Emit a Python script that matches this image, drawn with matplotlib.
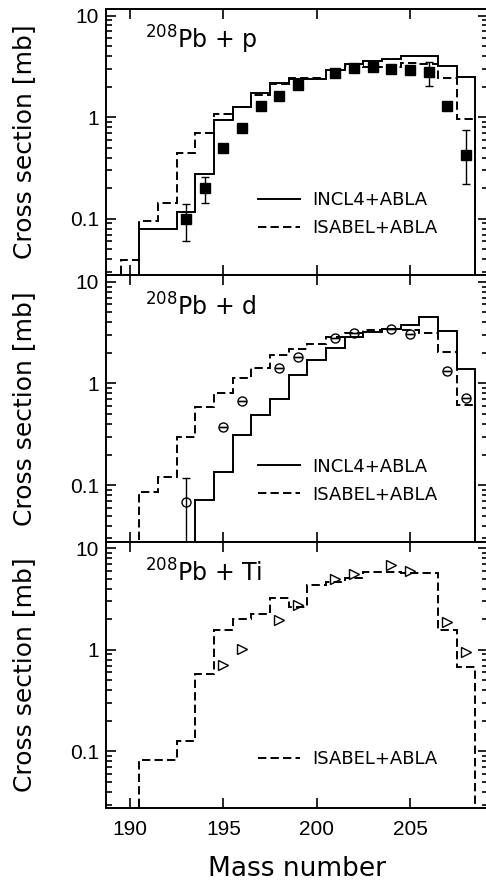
import numpy as np
import matplotlib
matplotlib.use('Agg')
import matplotlib.pyplot as plt
from matplotlib.ticker import FixedLocator, LogLocator, FuncFormatter, NullFormatter

# tick numbers in a narrow face, everything else set to DejaVu Sans explicitly
plt.rcParams['font.family'] = ['Liberation Sans Narrow', 'Liberation Sans', 'DejaVu Sans']
plt.rcParams['lines.scale_dashes'] = False
TXT = 'DejaVu Sans'

# ---- 208Pb + p ----
p_incl_mass = list(range(191, 209))
p_incl = [0.080, 0.080, 0.116, 0.273, 0.93, 1.25, 1.73, 2.18, 2.38, 2.38,
          2.94, 3.35, 3.55, 3.7, 3.98, 4.0, 3.22, 2.48]
p_isa_mass = list(range(190, 209))
p_isa = [0.039, 0.096, 0.144, 0.443, 0.70, 1.07, 1.25, 1.67, 2.13, 2.42, 2.42,
         2.94, 3.2, 3.1, 3.15, 3.4, 3.3, 2.42, 0.95]
p_exp_mass = [193, 194, 195, 196, 197, 198, 199, 201, 202, 203, 204, 205, 206, 207, 208]
p_exp = [0.10, 0.20, 0.50, 0.79, 1.30, 1.61, 2.08, 2.73, 3.06, 3.15, 2.99, 2.94, 2.80, 1.30, 0.42]
p_exp_lo = [0.06, 0.142, 0.50, 0.79, 1.18, 1.61, 2.08, 2.73, 3.06, 3.15, 2.99, 2.94, 2.03, 1.30, 0.22]
p_exp_hi = [0.14, 0.26, 0.50, 0.79, 1.42, 1.61, 2.08, 2.73, 3.06, 3.15, 2.99, 2.94, 3.47, 1.30, 0.74]

# ---- 208Pb + d ----
d_incl_mass = list(range(194, 209))
d_incl = [0.072, 0.134, 0.31, 0.49, 0.70, 1.21, 1.70, 2.21, 2.88, 3.22,
          3.4, 3.75, 4.5, 3.32, 1.38]
d_isa_mass = list(range(191, 209))
d_isa = [0.085, 0.121, 0.30, 0.59, 0.80, 1.14, 1.43, 1.90, 2.18, 2.42,
         2.88, 3.15, 3.35, 3.4, 3.35, 3.17, 2.05, 0.61]
d_exp_mass = [193, 195, 196, 198, 199, 201, 202, 204, 205, 207, 208]
d_exp = [0.069, 0.37, 0.67, 1.43, 1.83, 2.83, 3.15, 3.47, 3.1, 1.33, 0.72]
d_exp_lo = [0.001, 0.37, 0.67, 1.43, 1.83, 2.83, 3.15, 3.47, 3.1, 1.33, 0.72]
d_exp_hi = [0.118, 0.37, 0.67, 1.43, 1.83, 2.83, 3.15, 3.47, 3.1, 1.33, 0.72]

# ---- 208Pb + Ti ----
ti_isa_mass = list(range(191, 209))
ti_isa = [0.083, 0.083, 0.126, 0.58, 1.57, 2.01, 2.26, 3.25, 2.62, 4.3,
          4.64, 5.08, 5.83, 5.83, 5.7, 5.7, 1.58, 0.68]
ti_exp_mass = [195, 196, 198, 199, 201, 202, 204, 205, 207, 208]
ti_exp = [0.71, 1.03, 1.97, 2.73, 5.0, 5.6, 6.9, 5.97, 1.89, 0.955]

xticks = [190, 195, 200, 205]
DASH = (0, (6, 3))


def steps(ax, mass, vals, ls, label):
    m = np.array(mass, dtype=float)
    edges = np.append(m - 0.5, m[-1] + 0.5)
    ax.stairs(vals, edges, baseline=1e-4, color='black', lw=1.4,
              linestyle=ls, label=label)


def style(ax):
    ax.set_yscale('log')
    ax.set_xlim(188.7, 209.17)
    ax.set_ylim(0.0278, 11.6)
    ax.xaxis.set_major_locator(FixedLocator(xticks))
    ax.yaxis.set_major_locator(FixedLocator([0.1, 1, 10]))
    ax.yaxis.set_minor_locator(LogLocator(base=10, subs=np.arange(2, 10), numticks=20))
    ax.yaxis.set_major_formatter(FuncFormatter(lambda v, p: '%g' % v))
    ax.yaxis.set_minor_formatter(NullFormatter())
    ax.tick_params(which='both', direction='in', top=True, right=True, width=1.2)
    ax.tick_params(which='major', length=7.5, labelsize=15, pad=5)
    ax.tick_params(which='minor', length=4.5)
    ax.tick_params(axis='x', which='minor', length=0)
    ax.tick_params(axis='x', pad=9)
    for s in ax.spines.values():
        s.set_linewidth(1.4)
    ax.set_ylabel('Cross section [mb]', fontsize=18, family=TXT)
    ax.yaxis.set_label_coords(-0.182, 0.5)


fig = plt.figure(figsize=(4.86, 8.81), dpi=100)
left, width, h = 0.2175, 0.7866, 0.3023
ax_p = fig.add_axes([left, 0.0829 + 2 * h, width, h])
ax_d = fig.add_axes([left, 0.0829 + h, width, h])
ax_t = fig.add_axes([left, 0.0829, width, h])

# top panel
steps(ax_p, p_incl_mass, p_incl, '-', 'INCL4+ABLA')
steps(ax_p, p_isa_mass, p_isa, DASH, 'ISABEL+ABLA')
pe = np.array(p_exp)
ax_p.errorbar(p_exp_mass, pe, yerr=[pe - np.array(p_exp_lo), np.array(p_exp_hi) - pe],
              fmt='s', color='black', ms=6.5, elinewidth=1, capsize=3, capthick=1)

# middle panel
steps(ax_d, d_incl_mass, d_incl, '-', 'INCL4+ABLA')
steps(ax_d, d_isa_mass, d_isa, DASH, 'ISABEL+ABLA')
de = np.array(d_exp)
ax_d.errorbar(d_exp_mass, de, yerr=[de - np.array(d_exp_lo), np.array(d_exp_hi) - de],
              fmt='o', color='black', mfc='none', ms=6.5, mew=1, elinewidth=1,
              capsize=3, capthick=1)

# bottom panel
steps(ax_t, ti_isa_mass, ti_isa, DASH, 'ISABEL+ABLA')
ax_t.plot(ti_exp_mass, ti_exp, '>', color='black', mfc='none', ms=7, mew=1, ls='none')

for ax, name, ly in [(ax_p, r'$^{208}$Pb + p', 0.315),
                     (ax_d, r'$^{208}$Pb + d', 0.315),
                     (ax_t, r'$^{208}$Pb + Ti', 0.216)]:
    style(ax)
    ax.text(0.103, 0.85, name, transform=ax.transAxes, fontsize=17, va='baseline',
            family=TXT)
    ax.legend(loc='upper left', bbox_to_anchor=(0.398, ly), frameon=False,
              prop={'family': TXT, 'size': 13}, handlelength=2.33, handletextpad=0.7,
              labelspacing=0.55, borderpad=0, borderaxespad=0)

ax_p.tick_params(labelbottom=False)
ax_d.tick_params(labelbottom=False)
ax_t.set_xlabel('Mass number', fontsize=19, va='baseline', family=TXT)
ax_t.xaxis.set_label_coords(0.5, -(876 - 808) / 266.3)

fig.savefig('out.png', dpi=100)
